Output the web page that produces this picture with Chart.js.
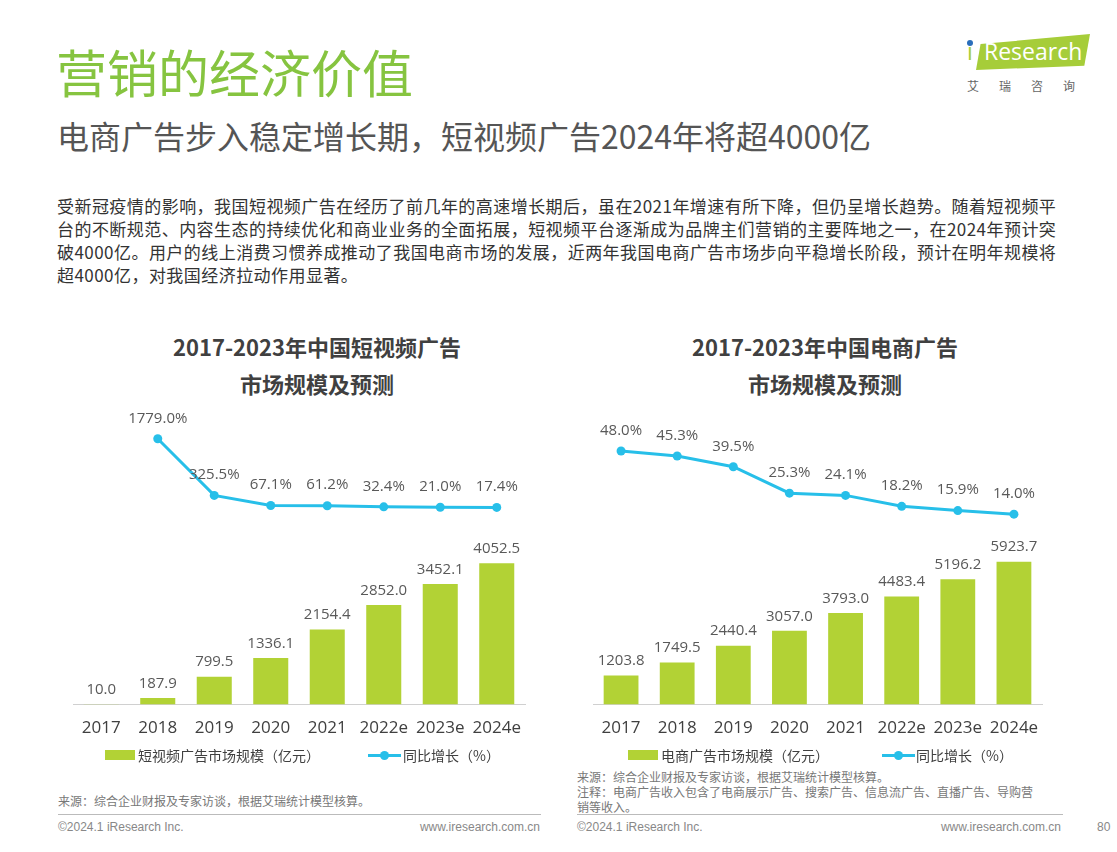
<!DOCTYPE html>
<html lang="zh">
<head>
<meta charset="utf-8">
<script src="https://cdn.jsdelivr.net/npm/chart.js@4.4.1/dist/chart.umd.min.js"></script>
<style>
body { margin: 0; background: #fff; font-family: "Noto Sans CJK SC", "Noto Sans", sans-serif; }
#page { position: relative; width: 1117px; height: 852px; overflow: hidden; background: #fff; }
.abs { position: absolute; white-space: nowrap; }
#title { left: 56px; top: 46px; font-size: 51px; line-height: 50px; color: #86c440; }
#subtitle { left: 57px; top: 119px; font-size: 32px; line-height: 32px; color: #555; }
.para { left: 57px; font-size: 17px; line-height: 23px; color: #333; letter-spacing: 0.45px; }
.ctitle { font-size: 22px; line-height: 26px; font-weight: bold; color: #404040; transform: translateX(-50%); }
.swatch { height: 10px; background: #b2d235; }
.lineKey { width: 33px; height: 3px; background: #27bfe9; }
.lineKey::after { content: ''; position: absolute; left: 12px; top: -3.5px; width: 9px; height: 9px; border-radius: 50%; background: #27bfe9; }
.key { font-size: 14px; line-height: 16px; color: #404040; }
.note { font-size: 12px; line-height: 15px; color: #777; }
.foot { font-size: 12px; line-height: 14px; color: #888; font-family: "Liberation Sans", Arial, sans-serif; }
.rule { height: 1px; background: #bbb; }
#logoBox { left: 976px; top: 34px; width: 114px; height: 36px; background: #a6cd39;
  clip-path: polygon(4% 28%, 100% 0%, 95% 88%, 0% 100%); }
#logoText { left: 984px; top: 37px; font-size: 23px; line-height: 28px; color: #fff; font-family: "Open Sans", sans-serif; }
#logoI { left: 967px; top: 37px; font-size: 23px; line-height: 28px; color: #a6cd39; font-family: "Open Sans", sans-serif; }
#logoDot { left: 967px; top: 40px; width: 6px; height: 6px; border-radius: 50%; background: #2a6ebb; }
#logoCn { left: 967px; top: 79px; font-size: 12px; line-height: 14px; color: #666; letter-spacing: 20px; }
</style>
</head>
<body>
<div id="page">
  <div class="abs" id="title">营销的经济价值</div>
  <div class="abs" id="subtitle">电商广告步入稳定增长期，短视频广告2024年将超4000亿</div>

  <div class="abs" id="logoBox"></div>
  <div class="abs" id="logoI">ı</div>
  <div class="abs" id="logoDot"></div>
  <div class="abs" id="logoText">Research</div>
  <div class="abs" id="logoCn">艾瑞咨询</div>

  <div class="abs para" style="top:194px">受新冠疫情的影响，我国短视频广告在经历了前几年的高速增长期后，虽在2021年增速有所下降，但仍呈增长趋势。随着短视频平</div>
  <div class="abs para" style="top:217px">台的不断规范、内容生态的持续优化和商业业务的全面拓展，短视频平台逐渐成为品牌主们营销的主要阵地之一，在2024年预计突</div>
  <div class="abs para" style="top:240px">破4000亿。用户的线上消费习惯养成推动了我国电商市场的发展，近两年我国电商广告市场步向平稳增长阶段，预计在明年规模将</div>
  <div class="abs para" style="top:263px">超4000亿，对我国经济拉动作用显著。</div>

  <div class="abs ctitle" style="left:317px; top:333px">2017-2023年中国短视频广告</div>
  <div class="abs ctitle" style="left:317px; top:370px">市场规模及预测</div>
  <div class="abs ctitle" style="left:825px; top:333px">2017-2023年中国电商广告</div>
  <div class="abs ctitle" style="left:825px; top:370px">市场规模及预测</div>

  <canvas class="abs" id="videoChart" width="480" height="356" style="left:60px; top:395px; width:480px; height:356px"></canvas>
  <canvas class="abs" id="ecomChart" width="480" height="356" style="left:580px; top:395px; width:480px; height:356px"></canvas>

  <div class="abs swatch" style="left:105px; top:750px; width:30px"></div>
  <div class="abs key" style="left:138px; top:747px">短视频广告市场规模（亿元）</div>
  <div class="abs lineKey" style="left:368px; top:754px"></div>
  <div class="abs key" style="left:403px; top:747px">同比增长（%）</div>

  <div class="abs swatch" style="left:628px; top:750px; width:30px"></div>
  <div class="abs key" style="left:661px; top:747px">电商广告市场规模（亿元）</div>
  <div class="abs lineKey" style="left:882px; top:754px"></div>
  <div class="abs key" style="left:916px; top:747px">同比增长（%）</div>

  <div class="abs note" style="left:577px; top:769px">来源：综合企业财报及专家访谈，根据艾瑞统计模型核算。</div>
  <div class="abs note" style="left:577px; top:784px">注释：电商广告收入包含了电商展示广告、搜索广告、信息流广告、直播广告、导购营</div>
  <div class="abs note" style="left:577px; top:799px">销等收入。</div>
  <div class="abs note" style="left:58px; top:793px">来源：综合企业财报及专家访谈，根据艾瑞统计模型核算。</div>

  <div class="abs rule" style="left:58px; top:814px; width:483px"></div>
  <div class="abs rule" style="left:577px; top:814px; width:486px"></div>
  <div class="abs foot" style="left:58px; top:820px">©2024.1 iResearch Inc.</div>
  <div class="abs foot" style="right:577px; top:820px">www.iresearch.com.cn</div>
  <div class="abs foot" style="left:577px; top:820px">©2024.1 iResearch Inc.</div>
  <div class="abs foot" style="right:56px; top:820px">www.iresearch.com.cn</div>
  <div class="abs foot" style="left:1097px; top:820px">80</div>
</div>

<script>
const years = ['2017', '2018', '2019', '2020', '2021', '2022e', '2023e', '2024e']
const videoAdSize = [10.0, 187.9, 799.5, 1336.1, 2154.4, 2852.0, 3452.1, 4052.5]
const videoAdGrowth = [null, 1779.0, 325.5, 67.1, 61.2, 32.4, 21.0, 17.4]
const ecomAdSize = [1203.8, 1749.5, 2440.4, 3057.0, 3793.0, 4483.4, 5196.2, 5923.7]
const ecomAdGrowth = [48.0, 45.3, 39.5, 25.3, 24.1, 18.2, 15.9, 14.0]

const barColor = '#b2d235'
const lineColor = '#27bfe9'

// draws the numbers above bars and points
const valueLabels = {
    id: 'valueLabels',
    afterDatasetsDraw(chart) {
        const ctx = chart.ctx
        chart.data.datasets.forEach((ds, i) => {
            const meta = chart.getDatasetMeta(i)
            meta.data.forEach((el, j) => {
                const v = ds.data[j]
                if (v == null) return
                const isLine = ds.type === 'line'
                ctx.save()
                ctx.font = '15px "Open Sans", sans-serif'
                ctx.fillStyle = '#595959'
                ctx.textAlign = 'center'
                ctx.textBaseline = 'bottom'
                ctx.fillText(v.toFixed(1) + (isLine ? '%' : ''), el.x, el.y - (isLine ? 13 : 7))
                ctx.restore()
            })
        })
    }
}

function showChart(canvasId, sizes, growth, barMax, lineMin, lineMax, padLeft, padRight) {
    const data = {
        labels: years,
        datasets: [{
            type: 'bar',
            data: sizes,
            backgroundColor: barColor,
            barPercentage: 0.62,
            categoryPercentage: 1,
            yAxisID: 'y'
        }, {
            type: 'line',
            data: growth,
            borderColor: lineColor,
            backgroundColor: lineColor,
            borderWidth: 3,
            pointRadius: 4.5,
            pointBorderWidth: 0,
            pointBackgroundColor: lineColor,
            tension: 0,
            yAxisID: 'y1'
        }]
    }
    const config = {
        data: data,
        options: {
            responsive: false,
            animation: false,
            devicePixelRatio: 1,
            layout: { padding: { left: padLeft, right: padRight, top: 0, bottom: 0 } },
            plugins: { legend: { display: false }, tooltip: { enabled: false } },
            scales: {
                x: {
                    offset: true,
                    grid: { display: false, drawTicks: false },
                    border: { display: true, color: '#d0d0d0', width: 1 },
                    ticks: {
                        color: '#404040',
                        font: { size: 17, family: '"Open Sans", sans-serif' },
                        padding: 13,
                        maxRotation: 0,
                        autoSkip: false
                    }
                },
                y: { display: false, min: 0, max: barMax },
                y1: { display: false, min: lineMin, max: lineMax }
            }
        },
        plugins: [valueLabels]
    }
    return new Chart(document.getElementById(canvasId), config)
}

showChart('videoChart', videoAdSize, videoAdGrowth, 8740, -5038, 2785, 13, 15)
showChart('ecomChart', ecomAdSize, ecomAdGrowth, 12643, -88.5, 75.7, 13, 18)
</script>
</body>
</html>
